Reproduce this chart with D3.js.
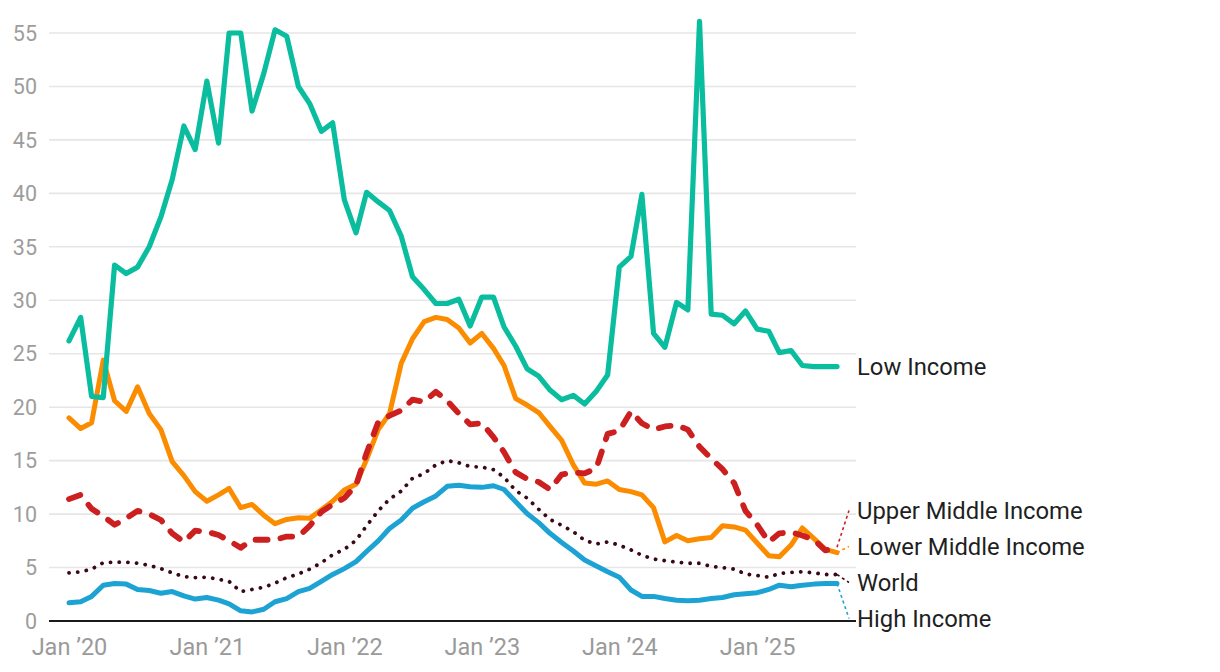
<!DOCTYPE html>
<html>
<head>
  <meta charset="utf-8">
  <script src="https://d3js.org/d3.v7.min.js"></script>
  <style>
    body { margin: 0; background: #fff; }
    text { font-family: Roboto, "Noto Sans", sans-serif; }
  </style>
</head>
<body>
<script type="text/javascript">

// monthly, Jan 2020 .. Aug 2025
var startMonth = new Date(2020, 0, 1);

var lowIncome = [26.2, 28.4, 21.0, 20.9, 33.3, 32.5, 33.1, 35.0, 37.8, 41.3, 46.3, 44.1,
  50.5, 44.7, 55.0, 55.0, 47.7, 51.2, 55.3, 54.7, 50.0, 48.4, 45.8, 46.6,
  39.4, 36.3, 40.1, 39.2, 38.4, 36.0, 32.2, 31.0, 29.7, 29.7, 30.1, 27.6,
  30.3, 30.3, 27.5, 25.7, 23.6, 22.9, 21.6, 20.7, 21.1, 20.3, 21.5, 23.0,
  33.1, 34.1, 39.9, 26.9, 25.6, 29.8, 29.1, 56.1, 28.7, 28.6, 27.8, 29.0,
  27.3, 27.1, 25.1, 25.3, 23.9, 23.8, 23.8, 23.8];

var lowerMiddle = [19.0, 18.0, 18.55, 24.4, 20.6, 19.6, 21.9, 19.4, 17.9, 14.9, 13.6, 12.1,
  11.2, 11.8, 12.4, 10.6, 10.9, 9.9, 9.1, 9.5, 9.65, 9.6, 10.4, 11.2,
  12.25, 12.8, 15.1, 17.9, 19.4, 24.1, 26.4, 28.0, 28.4, 28.2, 27.4, 26.0,
  26.9, 25.5, 23.9, 20.8, 20.2, 19.5, 18.2, 16.9, 14.6, 12.9, 12.8, 13.1,
  12.3, 12.1, 11.8, 10.6, 7.4, 8.0, 7.5, 7.7, 7.8, 8.9, 8.8, 8.5,
  7.3, 6.1, 6.0, 7.1, 8.7, 7.7, 6.7, 6.4];

var upperMiddle = [11.4, 11.8, 10.5, 9.8, 9.0, 9.6, 10.3, 10.0, 9.45, 8.2, 7.4, 8.45,
  8.35, 8.05, 7.5, 6.85, 7.6, 7.6, 7.6, 7.9, 7.9, 8.9, 10.2, 10.9,
  11.5, 12.7, 15.7, 18.6, 19.2, 19.7, 20.7, 20.5, 21.45, 20.6, 19.4, 18.4,
  18.5, 17.2, 15.8, 13.9, 13.3, 13.0, 12.3, 13.7, 13.9, 13.8, 14.3, 17.5,
  17.8, 19.6, 18.5, 17.9, 18.2, 18.3, 17.9, 16.3, 15.2, 14.2, 12.9, 10.3,
  9.0, 7.4, 8.2, 8.3, 8.0, 7.6, 6.6, 6.9];

var world = [4.5, 4.6, 4.85, 5.45, 5.5, 5.5, 5.4, 5.2, 4.9, 4.5, 4.15, 4.05,
  4.1, 3.9, 3.7, 2.75, 2.95, 3.15, 3.55, 4.05, 4.4, 4.85, 5.45, 6.2,
  6.7, 7.55, 8.9, 10.3, 11.4, 12.15, 13.35, 13.8, 14.6, 15.0, 14.8, 14.45,
  14.4, 14.15, 13.45, 12.2, 11.5, 10.45, 9.5, 8.95, 8.35, 7.55, 7.2, 7.4,
  7.1, 6.65, 6.15, 5.8, 5.65, 5.5, 5.4, 5.4, 5.1, 5.0, 4.85, 4.4,
  4.25, 4.1, 4.45, 4.55, 4.6, 4.5, 4.35, 4.35];

var highIncome = [1.7, 1.8, 2.3, 3.35, 3.5, 3.45, 2.95, 2.85, 2.6, 2.75, 2.35, 2.05,
  2.2, 1.95, 1.6, 0.95, 0.85, 1.1, 1.8, 2.1, 2.75, 3.05, 3.7, 4.35,
  4.9, 5.55, 6.5, 7.5, 8.65, 9.45, 10.55, 11.15, 11.7, 12.6, 12.7, 12.55,
  12.5, 12.65, 12.3, 11.15, 10.05, 9.2, 8.2, 7.35, 6.55, 5.7, 5.15, 4.6,
  4.1, 2.9, 2.3, 2.3, 2.1, 1.95, 1.9, 1.95, 2.1, 2.2, 2.45, 2.55,
  2.65, 2.95, 3.35, 3.2, 3.35, 3.45, 3.5, 3.5];

var seriesNames = ["High Income", "World", "Lower Middle Income", "Upper Middle Income", "Low Income"];
var seriesValues = [highIncome, world, lowerMiddle, upperMiddle, lowIncome];
var yTicks = [0, 5, 10, 15, 20, 25, 30, 35, 40, 45, 50, 55];
var xTickYears = [2020, 2021, 2022, 2023, 2024, 2025];

/*************************************************************************************************/

var w = 1220, h = 672;

var styles = {
  "High Income":         { color: "#1da3d3", width: 5,   dash: null },
  "World":               { color: "#3a0a14", width: 3.8, dash: "0.1,8.6" },
  "Lower Middle Income": { color: "#fb8c00", width: 5,   dash: null },
  "Upper Middle Income": { color: "#cc1f1f", width: 5.8, dash: "12,13" },
  "Low Income":          { color: "#0abd9e", width: 5.2, dash: null }
};

var svg = d3.select("body").append("svg")
  .attr("width", w).attr("height", h);

var months = d3.range(lowIncome.length).map(function(i) { return d3.timeMonth.offset(startMonth, i); });

var x = d3.scaleTime()
  .domain([months[0], months[months.length - 1]])
  .range([69, 837]);

var y = d3.scaleLinear().domain([0, 55]).range([621, 33]);

var gridLeft = 49, gridRight = 856;

// gridlines + y labels
svg.append("g").selectAll("line")
  .data(yTicks.filter(function(d) { return d > 0; }))
  .enter().append("line")
  .attr("x1", gridLeft).attr("x2", gridRight)
  .attr("y1", function(d) { return y(d); }).attr("y2", function(d) { return y(d); })
  .attr("stroke", "#e6e6e6").attr("stroke-width", 1.6);

svg.append("g").selectAll("text")
  .data(yTicks)
  .enter().append("text")
  .attr("x", 37)
  .attr("y", function(d) { return y(d); })
  .attr("dy", "0.36em")
  .attr("text-anchor", "end")
  .attr("font-size", 21.5)
  .attr("fill", "#9d9d9d")
  .text(function(d) { return d; });

// x axis labels
var xAxis = d3.axisBottom(x)
  .tickValues(xTickYears.map(function(yr) { return new Date(yr, 0, 1); }))
  .tickSize(0)
  .tickPadding(0)
  .tickFormat(function(d) { return "Jan \u2019" + d3.timeFormat("%y")(d); });

var xg = svg.append("g").attr("transform", "translate(0," + 655 + ")").call(xAxis);
xg.select(".domain").remove();
xg.selectAll("text")
  .attr("y", 0).attr("dy", 0)
  .attr("font-size", 23.5)
  .attr("font-family", "Roboto, 'Noto Sans', sans-serif")
  .attr("fill", "#9a9a9a");

/*************************************************************************************************/
/* lines */

var line = d3.line()
  .x(function(d, i) { return x(months[i]); })
  .y(function(d) { return y(d); });

var drawOrder = ["High Income", "World", "Lower Middle Income", "Upper Middle Income", "Low Income"];

drawOrder.forEach(function(name) {
  var vals = seriesValues[seriesNames.indexOf(name)];
  var s = styles[name];
  svg.append("path")
    .datum(vals)
    .attr("d", line)
    .attr("fill", "none")
    .attr("stroke", s.color)
    .attr("stroke-width", s.width)
    .attr("stroke-linejoin", "round")
    .attr("stroke-linecap", "round")
    .attr("stroke-dasharray", s.dash);
});

// baseline on top
svg.append("line")
  .attr("x1", gridLeft).attr("x2", gridRight)
  .attr("y1", y(0)).attr("y2", y(0))
  .attr("stroke", "#1a1a1a").attr("stroke-width", 2.2);

/*************************************************************************************************/
/* end labels with simple collision spreading */

var labelGap = 36;
var labels = seriesNames.map(function(name, k) {
  var vals = seriesValues[k];
  var last = vals[vals.length - 1];
  return { name: name, ty: y(last), ey: y(last), pos: y(last) };
}).sort(function(a, b) { return a.ty - b.ty; });

// merge overlapping groups, each centred on the mean of its targets
var groups = labels.map(function(l) { return { items: [l], center: l.ty }; });
var merged = true;
while (merged) {
  merged = false;
  for (var g = 0; g < groups.length - 1; g++) {
    var a = groups[g], b = groups[g + 1];
    var aBottom = a.center + (a.items.length - 1) * labelGap / 2;
    var bTop = b.center - (b.items.length - 1) * labelGap / 2;
    if (bTop - aBottom < labelGap) {
      var items = a.items.concat(b.items);
      groups.splice(g, 2, { items: items, center: d3.mean(items, function(d) { return d.ty; }) });
      merged = true;
      break;
    }
  }
}
groups.forEach(function(gr) {
  var top = gr.center - (gr.items.length - 1) * labelGap / 2;
  gr.items.forEach(function(l, i) { l.pos = top + i * labelGap; });
});

var lastX = x(months[months.length - 1]);
var labelX = 857;

labels.forEach(function(l) {
  var s = styles[l.name];
  if (Math.abs(l.pos - l.ey) > 2) {
    svg.append("line")
      .attr("x1", lastX).attr("y1", l.ey)
      .attr("x2", labelX - 8).attr("y2", l.pos)
      .attr("stroke", s.color)
      .attr("stroke-width", 1.6)
      .attr("stroke-dasharray", "3,3");
  }
  svg.append("text")
    .attr("x", labelX)
    .attr("y", l.pos)
    .attr("dy", "0.36em")
    .attr("font-size", 23.8)
    .attr("fill", "#1f1f1f")
    .text(l.name);
});

</script>
</body>
</html>
